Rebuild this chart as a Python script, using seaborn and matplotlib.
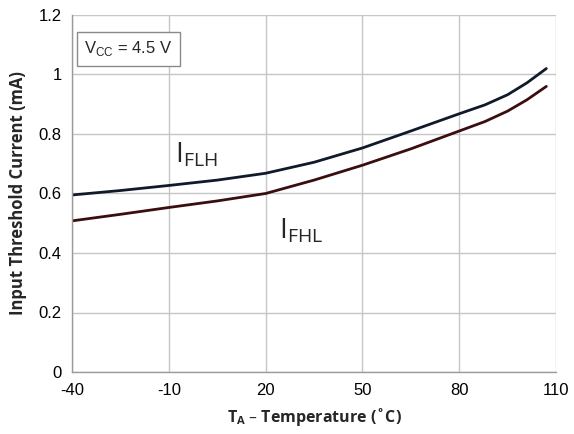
import pandas as pd
import seaborn as sns
import matplotlib.pyplot as plt

# Values
temps = [-40, -25, -10, 5, 20, 35, 50, 65, 80, 88, 95, 101, 107]
i_flh = [0.595, 0.61, 0.627, 0.645, 0.668, 0.705, 0.753, 0.81, 0.868, 0.898, 0.932, 0.972, 1.02]
i_fhl = [0.508, 0.53, 0.553, 0.575, 0.600, 0.645, 0.695, 0.75, 0.81, 0.842, 0.877, 0.915, 0.96]
x_ticks = [-40, -10, 20, 50, 80, 110]
y_ticks = [0, 0.2, 0.4, 0.6, 0.8, 1, 1.2]

df = pd.DataFrame({
    "temp": temps * 2,
    "current": i_flh + i_fhl,
    "curve": ["FLH"] * len(temps) + ["FHL"] * len(temps),
})

sns.set_style("white")
plt.rcParams["font.family"] = ["Liberation Sans", "DejaVu Sans"]
plt.rcParams["axes.unicode_minus"] = False

fig = plt.figure(figsize=(5.74, 4.34), dpi=100)
ax = fig.add_axes([72 / 574, 1 - 372 / 434, (556 - 72) / 574, (372 - 15) / 434])

sns.lineplot(
    data=df, x="temp", y="current", hue="curve",
    palette={"FLH": "#111a2a", "FHL": "#3a0e0e"},
    linewidth=2.0, legend=False, ax=ax,
)

ax.set_xlim(-40, 110)
ax.set_ylim(0, 1.2)
ax.set_xticks(x_ticks)
ax.set_yticks(y_ticks)
ax.set_yticklabels(["0", "0.2", "0.4", "0.6", "0.8", "1", "1.2"])
ax.grid(True, color="#c6c6c6", linewidth=1.0)
ax.set_axisbelow(True)
for side in ["top", "right"]:
    ax.spines[side].set_visible(False)
for side in ["left", "bottom"]:
    ax.spines[side].set_color("#9a9a9a")
    ax.spines[side].set_linewidth(1.0)
ax.tick_params(axis="both", length=4, color="#9a9a9a", labelsize=12, colors="black")
ax.tick_params(axis="x", pad=4)

ax.set_xlabel("T$_\\mathregular{A}$ – Temperature (˚C)", fontsize=11.5,
              fontweight="bold", family=["Open Sans", "DejaVu Sans"], labelpad=6)
ax.set_ylabel("Input Threshold Current (mA)", fontsize=12,
              fontweight="bold", family=["Open Sans", "DejaVu Sans"], labelpad=8)

ax.text(-8, 0.705, "I$_\\mathregular{FLH}$", fontsize=20, family=["Open Sans", "DejaVu Sans"])
ax.text(24, 0.45, "I$_\\mathregular{FHL}$", fontsize=20, family=["Open Sans", "DejaVu Sans"])

ax.text(0.025, 0.905, "V$_\\mathregular{CC}$ = 4.5 V", transform=ax.transAxes,
        fontsize=12, va="center",
        bbox=dict(boxstyle="square,pad=0.45", facecolor="white", edgecolor="#8a8a8a"))

fig.savefig("out.png", dpi=100)
